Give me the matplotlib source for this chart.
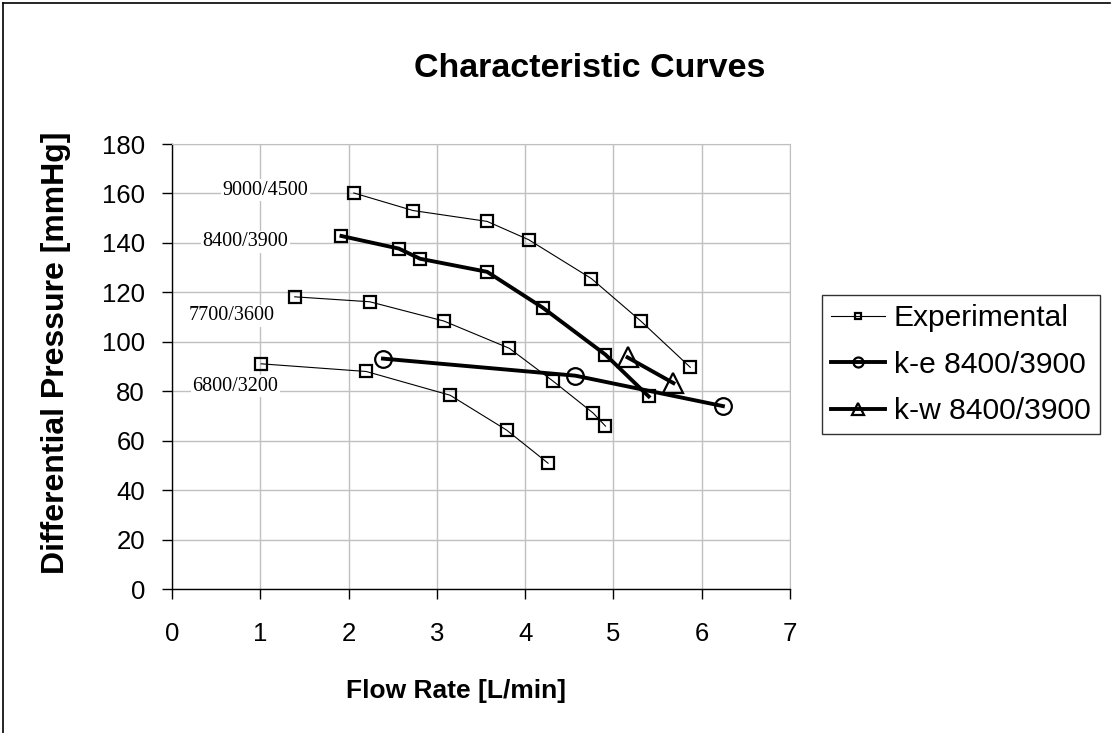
import matplotlib.pyplot as plt
from matplotlib.lines import Line2D

# Experimental data (speed pairs)
x_9000 = [2.06, 2.73, 3.57, 4.04, 4.75, 5.31, 5.87]
y_9000 = [160.2, 153.1, 148.7, 141.3, 125.6, 108.4, 89.7]

x_8400 = [1.92, 2.57, 2.81, 3.57, 4.20, 4.91, 5.40]
y_8400 = [142.8, 137.7, 133.6, 128.3, 113.8, 94.8, 77.9]

x_7700 = [1.39, 2.24, 3.08, 3.82, 4.32, 4.77, 4.91]
y_7700 = [118.2, 116.2, 108.4, 97.4, 84.0, 71.2, 65.9]

x_6800 = [1.01, 2.20, 3.15, 3.79, 4.26]
y_6800 = [91.1, 88.0, 78.4, 64.3, 50.9]

# CFD predictions
x_ke = [2.39, 4.57, 6.24]
y_ke = [93.2, 86.3, 74.0]
x_kw = [5.16, 5.68]
y_kw = [93.7, 83.3]

curve_labels = ['9000/4500', '8400/3900', '7700/3600', '6800/3200']
label_pos = [(1.06, 161.3), (0.83, 140.5), (0.68, 110.5), (0.72, 82.0)]

plt.rcParams['font.family'] = ['Liberation Sans', 'DejaVu Sans']

fig = plt.figure(figsize=(11.13, 7.33), dpi=100)
ax = fig.add_axes([0.1545, 0.1964, 0.5553, 0.6071])

sq = dict(marker='s', markersize=8, markerfacecolor='none', markeredgecolor='black',
          markeredgewidth=1.6, color='black')
ax.plot(x_9000, y_9000, linewidth=0.8, label='Experimental', **sq)
ax.plot(x_8400, y_8400, linewidth=2.8, **sq)
ax.plot(x_7700, y_7700, linewidth=0.8, **sq)
ax.plot(x_6800, y_6800, linewidth=0.8, **sq)

ax.plot(x_ke, y_ke, color='black', linewidth=2.8, marker='o', markersize=12,
        markerfacecolor='none', markeredgewidth=1.6, label='k-e 8400/3900')
ax.plot(x_kw, y_kw, color='black', linewidth=2.8, marker='^', markersize=14,
        markerfacecolor='none', markeredgewidth=1.6, label='k-w 8400/3900')

for txt, (tx, ty) in zip(curve_labels, label_pos):
    ax.text(tx, ty, txt, ha='center', va='center', fontsize=14.5,
            family='Liberation Serif',
            bbox=dict(facecolor='white', edgecolor='none', pad=1))

ax.set_xlim(0, 7)
ax.set_ylim(0, 180)
ax.set_xticks(range(0, 8))
ax.set_yticks(range(0, 181, 20))
ax.grid(True, color='#c0c0c0', linewidth=1.0)
ax.set_axisbelow(True)
for s in ['top', 'right']:
    ax.spines[s].set_color('#c0c0c0')
for s in ['left', 'bottom']:
    ax.spines[s].set_linewidth(1.0)
ax.tick_params(direction='out', length=7.5, width=1, labelsize=18.5)
ax.tick_params(axis='x', pad=16)
ax.tick_params(axis='y', pad=12)

ax.set_xlabel('Flow Rate [L/min]', fontsize=19, fontweight='bold')
ax.xaxis.set_label_coords(0.46, -0.203)
ax.set_ylabel('Differential Pressure [mmHg]', fontsize=23, fontweight='bold')
ax.yaxis.set_label_coords(-0.163, 0.53)
fig.suptitle('Characteristic Curves', fontsize=24.5, fontweight='bold', x=0.53, y=0.928)

ax.legend(loc='upper left', bbox_to_anchor=(0.7385, 0.5975), bbox_transform=fig.transFigure,
          fontsize=21.6, frameon=True, fancybox=False, edgecolor='black', borderaxespad=0,
          markerscale=0.6, handlelength=1.8, handletextpad=0.3, labelspacing=0.62,
          borderpad=0.3)

# figure border (only top and left edges visible in the original)
fig.add_artist(Line2D([0.003, 0.997], [0.996, 0.996], color='black', linewidth=1.2))
fig.add_artist(Line2D([0.003, 0.003], [0.0, 0.996], color='black', linewidth=1.2))

fig.savefig('out.png', dpi=100)
